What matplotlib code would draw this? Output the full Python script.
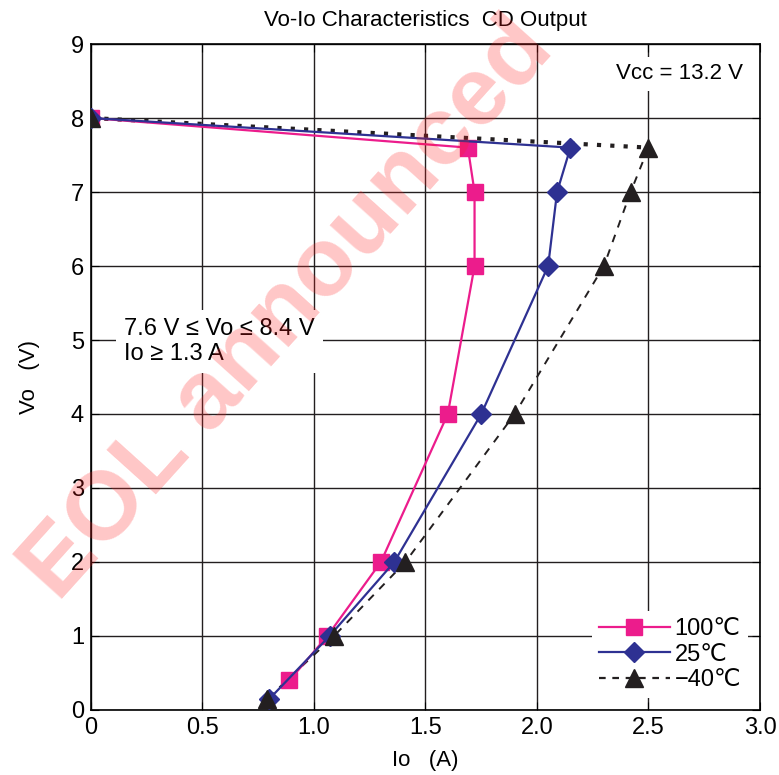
import matplotlib
matplotlib.use("Agg")
import matplotlib.pyplot as plt

plt.rcParams['font.family'] = ['Liberation Sans', 'DejaVu Sans']

# Vo-Io data per temperature
io_100 = [0.0, 1.69, 1.72, 1.72, 1.60, 1.30, 1.06, 0.89]
vo_100 = [8.0, 7.6, 7.0, 6.0, 4.0, 2.0, 1.0, 0.4]

io_25 = [0.0, 2.15, 2.09, 2.05, 1.75, 1.36, 1.07, 0.80]
vo_25 = [8.0, 7.6, 7.0, 6.0, 4.0, 2.0, 1.0, 0.15]

io_m40 = [0.0, 2.50, 2.42, 2.30, 1.90, 1.41, 1.09, 0.79]
vo_m40 = [8.0, 7.6, 7.0, 6.0, 4.0, 2.0, 1.0, 0.15]

x_ticks = [0, 0.5, 1.0, 1.5, 2.0, 2.5, 3.0]
x_labels = ['0', '0.5', '1.0', '1.5', '2.0', '2.5', '3.0']

pink = '#ec1c8c'
blue = '#2e3192'
black = '#231f20'

fig = plt.figure(figsize=(7.79, 7.75), dpi=100)
ax = fig.add_axes([0.1168, 0.0839, 0.8588, 0.8593])

# watermark
fig.text(0.37, 0.60, 'EOL announced', color='#ff2020', alpha=0.25, fontsize=70,
         fontweight='bold', rotation=48, ha='center', va='center', zorder=0)

ax.plot(io_100, vo_100, color=pink, lw=1.6, marker='s', ms=12, zorder=4, label='100\u2103')
ax.plot(io_25, vo_25, color=blue, lw=1.6, marker='D', ms=10, zorder=4, label='25\u2103')
# -40: top segment dotted, rest dashed
ax.plot(io_m40[:2], vo_m40[:2], color=black, lw=3, ls=(0, (1, 2.2)), zorder=3)
ax.plot(io_m40[1:], vo_m40[1:], color=black, lw=1.4, ls=(0, (4, 4)), zorder=3)
ax.plot(io_m40, vo_m40, ls='none', color=black, marker='^', ms=13, zorder=5)
ax.plot([], [], color=black, lw=1.6, ls=(0, (3, 3)), marker='^', ms=13, label='\u221240\u2103')

ax.set_xlim(0, 3.0)
ax.set_ylim(0, 9)
ax.set_xticks(x_ticks)
ax.set_xticklabels(x_labels)
ax.set_yticks(range(10))
ax.grid(True, color='#231f20', lw=1.0)
ax.set_axisbelow(True)
ax.tick_params(direction='in', labelsize=17, top=True, right=True, length=6, pad=5)
for s in ax.spines.values():
    s.set_linewidth(1.2)

ax.set_title('Vo-Io Characteristics  CD Output', fontsize=16, pad=13)
ax.set_xlabel('Io   (A)', fontsize=16, labelpad=8)
ax.set_ylabel('Vo   (V)', fontsize=16, labelpad=22)

ax.text(0.975, 0.955, 'Vcc = 13.2 V', transform=ax.transAxes, ha='right', va='center',
        fontsize=16, bbox=dict(facecolor='white', edgecolor='none', pad=5), zorder=6)
ax.text(0.05, 0.553, '7.6 V \u2264 Vo \u2264 8.4 V\nIo \u2265 1.3 A', transform=ax.transAxes,
        ha='left', va='center', fontsize=17, linespacing=1.15,
        bbox=dict(facecolor='white', edgecolor='none', pad=6), zorder=6)

leg = ax.legend(loc='lower right', fontsize=17, frameon=True, handlelength=3,
                handletextpad=0.2, borderpad=0.3, labelspacing=0.15,
                bbox_to_anchor=(1.0, 0.0))
leg.get_frame().set_edgecolor('none')
leg.get_frame().set_alpha(1)
leg.set_zorder(7)

fig.savefig('out.png', dpi=100)
